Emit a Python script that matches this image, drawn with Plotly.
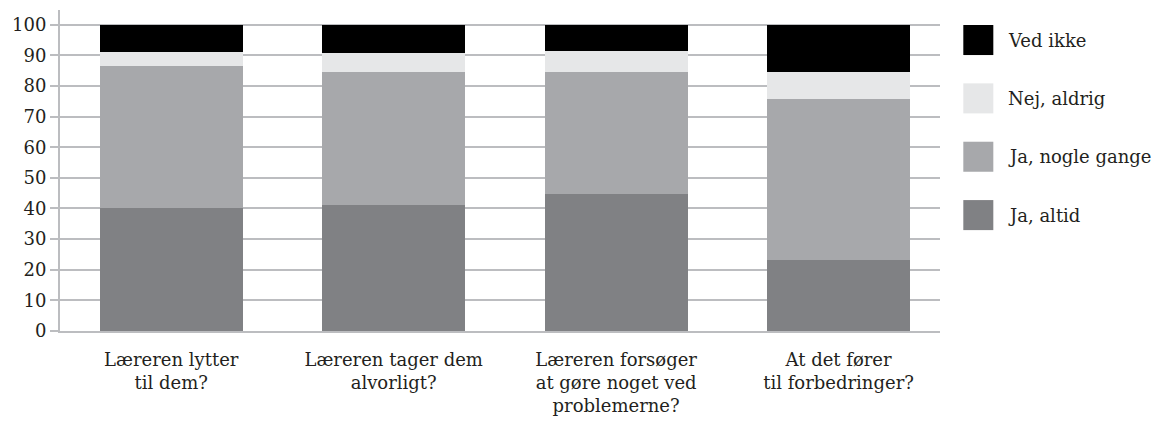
import plotly.graph_objects as go

# Data (percent)
categories = [
    'Læreren lytter<br>til dem?',
    'Læreren tager dem<br>alvorligt?',
    'Læreren forsøger<br>at gøre noget ved<br>problemerne?',
    'At det fører<br>til forbedringer?',
]
ja_altid = [40.2, 41.1, 44.7, 23.1]
ja_nogle_gange = [46.3, 43.4, 39.8, 52.6]
nej_aldrig = [4.6, 6.25, 6.9, 8.8]
ved_ikke = [8.9, 9.25, 8.6, 15.5]

series_names = ['Ja, altid', 'Ja, nogle gange', 'Nej, aldrig', 'Ved ikke']
series_values = [ja_altid, ja_nogle_gange, nej_aldrig, ved_ikke]
colors = ['#808184', '#a7a8ab', '#e6e7e8', '#000000']

y_ticks = list(range(0, 101, 10))

FONT = 'DejaVu Serif'
TEXT = '#231f20'
GRID = '#bcbdc0'

# the page body adds an 8px margin, so the figure is made smaller and shifted
PAGE_OFF = 8
W, H = 1163 - PAGE_OFF, 435 - PAGE_OFF
ML = 60 - PAGE_OFF
MT = 10 - PAGE_OFF
MR = W - (939.7 - PAGE_OFF)
MB = H - (330.7 - PAGE_OFF)

fig = go.Figure()

x_idx = list(range(len(categories)))
for name, vals, col in zip(series_names, series_values, colors):
    fig.add_trace(go.Bar(
        x=x_idx,
        y=vals,
        name=name,
        marker=dict(color=col, line=dict(width=0)),
        showlegend=False
    ))

# Custom legend with large square swatches (top to bottom: reverse stack order)
plot_w = W - ML - MR
plot_h = H - MT - MB
def px_to_paper_x(px):
    return (px - PAGE_OFF - ML) / plot_w
def px_to_paper_y(py):
    return (H - MB - (py - PAGE_OFF)) / plot_h

legend_top = 40
legend_step = 58.3
for i, (name, col) in enumerate(zip(series_names[::-1], colors[::-1])):
    cy = legend_top + i * legend_step
    fig.add_shape(
        type='rect', xref='paper', yref='paper',
        x0=px_to_paper_x(963), x1=px_to_paper_x(993),
        y0=px_to_paper_y(cy + 15), y1=px_to_paper_y(cy - 15),
        fillcolor=col, line=dict(width=0)
    )
    fig.add_annotation(
        text=name, xref='paper', yref='paper',
        x=px_to_paper_x(1006), y=px_to_paper_y(cy),
        xanchor='left', yanchor='middle', showarrow=False,
        font=dict(family=FONT, size=18, color=TEXT)
    )

fig.update_layout(
    width=W,
    height=H,
    barmode='stack',
    bargap=0.358,
    plot_bgcolor='white',
    paper_bgcolor='white',
    margin=dict(l=ML, r=MR, t=MT, b=MB),
    font=dict(family=FONT, size=18, color=TEXT),
    xaxis=dict(
        tickvals=x_idx,
        ticktext=categories,
        range=[-0.5, 3.456],
        automargin=False,
        showline=True,
        linecolor=GRID,
        linewidth=2,
        showgrid=False,
        ticks='',
        ticklabelstandoff=11,
        tickfont=dict(family=FONT, size=18, color=TEXT)
    ),
    yaxis=dict(
        range=[0, 104.8],
        tickvals=y_ticks,
        automargin=False,
        showgrid=True,
        gridcolor=GRID,
        gridwidth=2,
        showline=True,
        linecolor=GRID,
        linewidth=2,
        ticks='outside',
        ticklen=8,
        tickwidth=2,
        tickcolor=GRID,
        ticklabelstandoff=0,
        zeroline=False,
        tickfont=dict(family=FONT, size=18, color=TEXT)
    )
)

fig.write_html("out.html")
